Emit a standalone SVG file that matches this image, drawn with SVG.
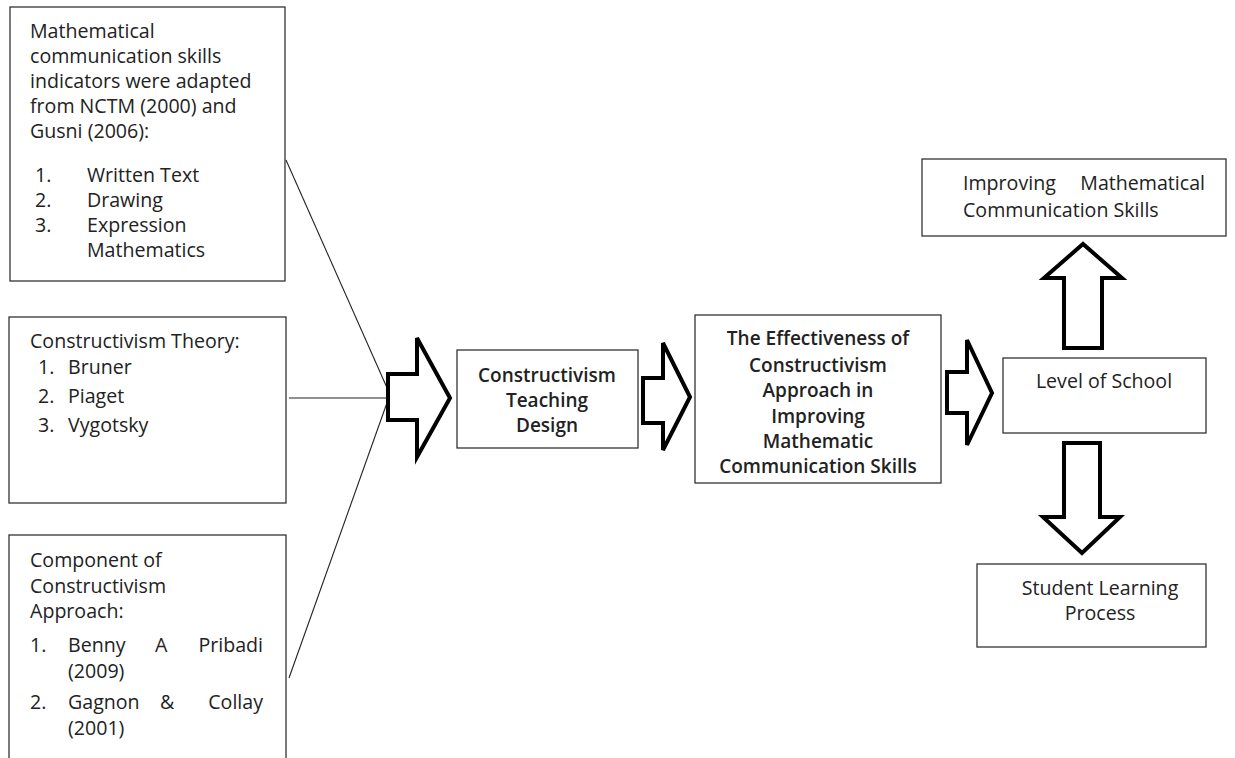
<svg xmlns="http://www.w3.org/2000/svg" width="1235" height="758" viewBox="0 0 1235 758">
<style>
.box{fill:#fff;stroke:#333;stroke-width:1.3}
.t{font-family:"Open Sans","Liberation Sans",sans-serif;font-size:19.6px;fill:#222}
.b{font-weight:600;font-size:19px;text-anchor:middle}
.c{text-anchor:middle}
.e{text-anchor:end}
.arr{fill:#fff;stroke:#000;stroke-width:4;stroke-linejoin:miter}
.ln{stroke:#222;stroke-width:1.1;fill:none}
</style>
<rect width="1235" height="758" fill="#fff"/>
<g id="connectors">
<line class="ln" x1="286" y1="160" x2="388" y2="390"/>
<line class="ln" x1="289" y1="398" x2="388" y2="398"/>
<line class="ln" x1="289" y1="678" x2="388" y2="400"/>
<polygon class="arr" points="388,374 417,374 417,338 450,398 417,457 417,420 388,420"/>
<polygon class="arr" points="643,378 663,378 663,343 690,397 663,450 663,423 643,423"/>
<polygon class="arr" points="947,372 967,372 967,340 992,393 967,445 967,413 947,413"/>
<polygon class="arr" points="1064,348 1064,278 1044,278 1083,244 1122,278 1102,278 1102,348"/>
<polygon class="arr" points="1064,443 1100,443 1100,517 1120,517 1082,553 1043,517 1064,517"/>
</g>
<g id="n1">
<rect class="box" x="10" y="7" width="275" height="274"/>
<text class="t" x="30" y="38">Mathematical</text>
<text class="t" x="30" y="63">communication skills</text>
<text class="t" x="30" y="88">indicators were adapted</text>
<text class="t" x="30" y="113">from NCTM (2000) and</text>
<text class="t" x="30" y="138">Gusni (2006):</text>
<text class="t" x="35" y="182">1.</text><text class="t" x="87" y="182">Written Text</text>
<text class="t" x="35" y="207">2.</text><text class="t" x="87" y="207">Drawing</text>
<text class="t" x="35" y="232">3.</text><text class="t" x="87" y="232">Expression</text>
<text class="t" x="87" y="257">Mathematics</text>
</g>
<g id="n2">
<rect class="box" x="9" y="317" width="277" height="186"/>
<text class="t" x="30" y="348">Constructivism Theory:</text>
<text class="t" x="38" y="374">1.</text><text class="t" x="68" y="374">Bruner</text>
<text class="t" x="38" y="403">2.</text><text class="t" x="68" y="403">Piaget</text>
<text class="t" x="38" y="432">3.</text><text class="t" x="68" y="432">Vygotsky</text>
</g>
<g id="n3">
<rect class="box" x="9" y="535" width="277" height="240"/>
<text class="t" x="30" y="567">Component of</text>
<text class="t" x="30" y="593">Constructivism</text>
<text class="t" x="30" y="618">Approach:</text>
<text class="t" x="30" y="652">1.</text><text class="t" x="68" y="652">Benny</text><text class="t" x="155" y="652">A</text><text class="t e" x="263" y="652">Pribadi</text>
<text class="t" x="68" y="678">(2009)</text>
<text class="t" x="30" y="709">2.</text><text class="t" x="68" y="709">Gagnon</text><text class="t" x="160" y="709">&amp;</text><text class="t e" x="263" y="709">Collay</text>
<text class="t" x="68" y="735">(2001)</text>
</g>
<g id="n4">
<rect class="box" x="457" y="350" width="181" height="98"/>
<text class="t b" x="547" y="382">Constructivism</text>
<text class="t b" x="547" y="407">Teaching</text>
<text class="t b" x="547" y="432">Design</text>
</g>
<g id="n5">
<rect class="box" x="695" y="315" width="246" height="168"/>
<text class="t b" x="818" y="345">The Effectiveness of</text>
<text class="t b" x="818" y="372">Constructivism</text>
<text class="t b" x="818" y="397">Approach in</text>
<text class="t b" x="818" y="423">Improving</text>
<text class="t b" x="818" y="448">Mathematic</text>
<text class="t b" x="818" y="473">Communication Skills</text>
</g>
<g id="n6">
<rect class="box" x="922" y="159" width="304" height="77"/>
<text class="t" x="963" y="190">Improving</text><text class="t e" x="1205" y="190">Mathematical</text>
<text class="t" x="963" y="217">Communication Skills</text>
</g>
<g id="n7">
<rect class="box" x="1003" y="358" width="203" height="75"/>
<text class="t c" x="1104" y="388">Level of School</text>
</g>
<g id="n8">
<rect class="box" x="977" y="564" width="229" height="83"/>
<text class="t c" x="1100" y="595">Student Learning</text>
<text class="t c" x="1100" y="620">Process</text>
</g>
</svg>
